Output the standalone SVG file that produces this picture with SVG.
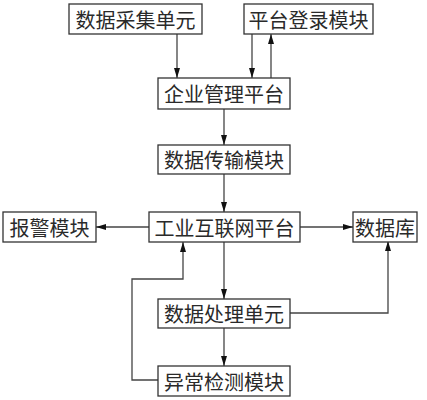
<svg xmlns="http://www.w3.org/2000/svg" width="427" height="400" viewBox="0 0 427 400">
<style>
.b{fill:#fff;stroke:#333;stroke-width:1.3}
.t{font-family:"Noto Sans CJK SC","Noto Sans CJK JP",sans-serif;font-size:20px;fill:#2a2a2a;text-anchor:middle;dominant-baseline:central}
.c{fill:none;stroke:#444;stroke-width:1.3}
</style>
<defs>
<marker id="a" viewBox="0 0 10 6" refX="10" refY="3" markerWidth="10" markerHeight="6" markerUnits="userSpaceOnUse" orient="auto">
<path d="M0,0 L10,3 L0,6 Z" fill="#111"/>
</marker>
</defs>
<rect width="427" height="400" fill="#fff"/>
<g id="connectors">
<path class="c" d="M177,34 V78" marker-end="url(#a)"/>
<path class="c" d="M252,34 V78" marker-end="url(#a)"/>
<path class="c" d="M271,78 V34" marker-end="url(#a)"/>
<path class="c" d="M224,109 V145" marker-end="url(#a)"/>
<path class="c" d="M224,174 V212" marker-end="url(#a)"/>
<path class="c" d="M149,227 H96" marker-end="url(#a)"/>
<path class="c" d="M300,227 H353" marker-end="url(#a)"/>
<path class="c" d="M224,242 V299" marker-end="url(#a)"/>
<path class="c" d="M224,328 V366" marker-end="url(#a)"/>
<path class="c" d="M290,313 H388 V241" marker-end="url(#a)"/>
<path class="c" d="M158,380 H132 V279 H183 V242" marker-end="url(#a)"/>
</g>
<g id="n1"><rect class="b" x="69" y="4" width="133" height="30"/><text class="t" x="135.5" y="19">数据采集单元</text></g>
<g id="n2"><rect class="b" x="244" y="4" width="129" height="30"/><text class="t" x="308.5" y="19">平台登录模块</text></g>
<g id="n3"><rect class="b" x="158" y="78" width="132" height="31"/><text class="t" x="224" y="93.5">企业管理平台</text></g>
<g id="n4"><rect class="b" x="158" y="145" width="132" height="29"/><text class="t" x="224" y="159.5">数据传输模块</text></g>
<g id="n5"><rect class="b" x="149" y="212" width="151" height="30"/><text class="t" x="224.5" y="227">工业互联网平台</text></g>
<g id="n6"><rect class="b" x="3" y="212" width="93" height="30"/><text class="t" x="49.5" y="227">报警模块</text></g>
<g id="n7"><rect class="b" x="353" y="212" width="64" height="30"/><text class="t" x="385" y="227">数据库</text></g>
<g id="n8"><rect class="b" x="158" y="299" width="132" height="29"/><text class="t" x="224" y="313.5">数据处理单元</text></g>
<g id="n9"><rect class="b" x="158" y="366" width="132" height="30"/><text class="t" x="224" y="381">异常检测模块</text></g>
</svg>
